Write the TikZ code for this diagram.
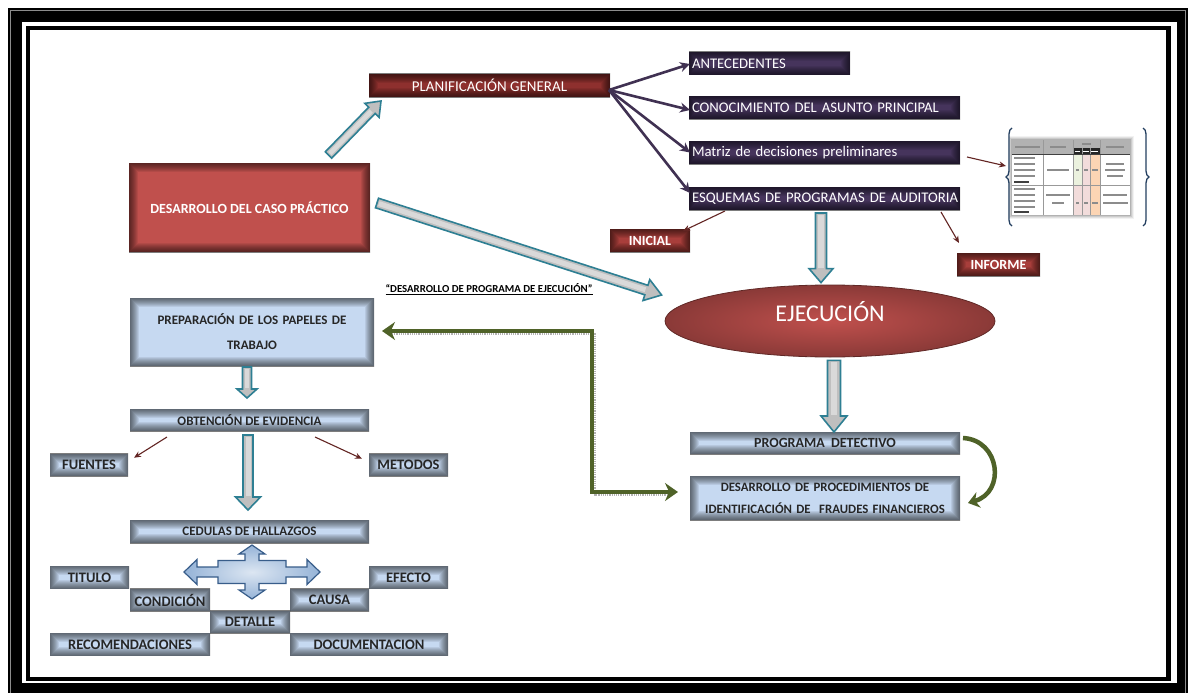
\documentclass[tikz,border=0pt]{standalone}
\usepackage{fontspec}
\setmainfont{Carlito}
\usetikzlibrary{calc,arrows.meta,decorations.pathreplacing,shapes.geometric}

\definecolor{boxred}{HTML}{C0504D}
\definecolor{deepred}{HTML}{8E302E}
\definecolor{tagred}{HTML}{A83E3B}
\definecolor{plum}{HTML}{46345C}
\definecolor{plumline}{HTML}{403152}
\definecolor{paleblue}{HTML}{C6D9F1}
\definecolor{tealline}{HTML}{2E7F93}
\definecolor{olive}{HTML}{4F6228}
\definecolor{maroon}{HTML}{632523}
\definecolor{navy}{HTML}{385D8A}
\definecolor{crosslight}{HTML}{DCE6F2}
\definecolor{crossdark}{HTML}{95B3D7}
\definecolor{bracecol}{HTML}{243F60}
\definecolor{cellgreen}{HTML}{EBF1DE}
\definecolor{cellpink}{HTML}{F2DCDB}
\definecolor{cellorange}{HTML}{FCD5B4}

\newcommand\setfs[2]{\fontsize{#1}{#2}\selectfont}

% wide arrow with outlined head: shaft half-width, head half-width, head length, tail, tip
\newcommand\blockarrow[5]{%
  \coordinate (ba-neck) at ($(#5)!#3!(#4)$);
  \filldraw[block arrow]
    ($(#4)!#1!90:(#5)$) -- ($(ba-neck)!#1!90:(#5)$) -- ($(ba-neck)!#2!90:(#5)$)
    -- (#5) -- ($(ba-neck)!#2!-90:(#5)$) -- ($(ba-neck)!#1!-90:(#5)$)
    -- ($(#4)!#1!-90:(#5)$) -- cycle;
  \draw[block core, line width=#1] ($(#4)!2pt!(#5)$) -- ($(ba-neck)!1pt!(#4)$);
}

\tikzset{
  edge shade/.style={path picture={
      \foreach \lw in {2,4,...,18}{
        \draw[draw=#1, draw opacity=0.075, line width=\lw pt]
          (path picture bounding box.south west) rectangle
          (path picture bounding box.north east);}}},
  box/.style={inner xsep=3pt, inner ysep=0pt, outer sep=0pt, align=center},
  casebox/.style={box, fill=boxred, edge shade=black, text=white,
    font=\bfseries\setfs{14}{17}},
  planbox/.style={box, fill=deepred, edge shade=black, text=white,
    font=\setfs{15}{18}},
  topicbox/.style={box, fill=plum, edge shade=black, text=white, align=left,
    font=\setfs{14.7}{18}, minimum height=23pt},
  tagbox/.style={box, fill=tagred, edge shade=black, text=white,
    font=\bfseries\setfs{14}{17}, minimum height=23pt},
  bluebox/.style={box, fill=paleblue, edge shade=black, text=black!85,
    font=\bfseries\setfs{13}{25}},
  itembox/.style={bluebox, font=\bfseries\setfs{14.5}{17}, minimum height=22.5pt},
  block arrow/.style={draw=tealline, fill=black!25, line width=1.6pt, line join=miter},
  block core/.style={white!85!black},
  branch/.style={draw=plumline, line width=2.6pt, -{Stealth[length=10pt,width=10pt]}},
  thin arrow/.style={draw=maroon, line width=1.1pt, -{Stealth[length=7pt,width=6pt]}},
  link/.style={draw=olive, line width=4.5pt,
    {Stealth[length=13pt,width=18pt]}-{Stealth[length=13pt,width=18pt]}},
  textbar/.style={black!45, line width=1.1pt},
}

\begin{document}
\begin{tikzpicture}[x=1pt, y=-1pt]
\useasboundingbox (0,0) rectangle (1191,693);

% double frame
\fill[black] (8,8) rectangle (1188,700);
\draw[black!45, line width=0.8pt] (10.5,10.5) rectangle (1185.5,705);
\fill[white] (22,22) rectangle (1177,683);
\fill[black] (26,26) rectangle (1171,681);
\fill[white] (30,30) rectangle (1166,677);

% planning branch
\node[casebox, minimum width=241pt, minimum height=89pt] (caso) at (249.5,207.5)
  {DESARROLLO DEL CASO PRÁCTICO};
\node[planbox, minimum width=241pt, minimum height=23pt] (plan) at (489.5,85.5)
  {PLANIFICACIÓN GENERAL};
\node[topicbox, text width=155pt] (ante) at (769.5,63.5) {ANTECEDENTES};
\node[topicbox, text width=265pt] (cono) at (824.5,107.5) {\mbox{CONOCIMIENTO DEL ASUNTO PRINCIPAL}};
\node[topicbox, text width=265pt] (matriz) at (824.5,152.5) {\mbox{Matriz de decisiones preliminares}};
\node[topicbox, text width=265pt] (esq) at (824.5,198.5) {\mbox{ESQUEMAS DE PROGRAMAS DE AUDITORIA}};
\node[tagbox, minimum width=80pt] (inicial) at (650,240.5) {INICIAL};
\node[tagbox, minimum width=83pt] (informe) at (998.5,264.5) {INFORME};

% execution
\node[ellipse, shade, inner color=boxred, outer color=boxred!72!black,
  draw=boxred!50!black, line width=0.8pt, minimum width=330pt, minimum height=72pt,
  text=white, font=\setfs{24}{28}, text height=10pt, text depth=10pt]
  (ejec) at (830,321) {EJECUCIÓN};
\node[bluebox, minimum width=270pt, minimum height=22pt, font=\bfseries\setfs{14}{17}]
  (progdet) at (825,443) {PROGRAMA \ DETECTIVO};
\node[bluebox, minimum width=270pt, minimum height=44pt, text width=264pt,
  font=\bfseries\setfs{12.8}{22}]
  (desproc) at (825,498) {DESARROLLO DE PROCEDIMIENTOS DE\\IDENTIFICACIÓN DE \ FRAUDES FINANCIEROS};

\node (ttl) at (489,289)
  {\resizebox{207pt}{9pt}{\bfseries\underline{“DESARROLLO DE PROGRAMA DE EJECUCIÓN”}}};

% working papers column
\node[bluebox, minimum width=244pt, minimum height=68pt, text width=238pt]
  (prep) at (252,332) {PREPARACIÓN DE LOS PAPELES DE\\TRABAJO};
\node[bluebox, minimum width=239pt, minimum height=22pt] (obt) at (249.5,420)
  {OBTENCIÓN DE EVIDENCIA};
\node[itembox, minimum width=78pt] (fuentes) at (89,465) {FUENTES};
\node[itembox, minimum width=79pt] (metodos) at (408.5,465) {METODOS};
\node[bluebox, minimum width=239pt, minimum height=23pt] (ced) at (249.5,531.5)
  {CEDULAS DE HALLAZGOS};
\node[itembox, minimum width=79pt] (titulo) at (89.5,577.5) {TITULO};
\node[itembox, minimum width=79pt] (efecto) at (408.5,577.5) {EFECTO};
\node[itembox, minimum width=80pt] (condicion) at (170,600) {CONDICIÓN};
\node[itembox, minimum width=79pt] (causa) at (329.5,600) {CAUSA};
\node[itembox, minimum width=80pt] (detalle) at (250,622) {DETALLE};
\node[itembox, minimum width=160pt] (recom) at (130,644.5) {RECOMENDACIONES};
\node[itembox, minimum width=158pt] (docum) at (369,644.5) {DOCUMENTACION};

% four-way arrow under the findings box
\shade[inner color=crosslight, outer color=crossdark, draw=navy, line width=1.2pt, line join=miter]
  (184,572) -- (197,559.5) -- (197,567) -- (218,567) -- (218,560.5) -- (245,560.5)
  -- (245,554) -- (239,554) -- (252,545) -- (265,554) -- (259,554) -- (259,560.5)
  -- (286,560.5) -- (286,567) -- (307,567) -- (307,559.5) -- (320,572) -- (307,584.5)
  -- (307,577) -- (286,577) -- (286,583.5) -- (259,583.5) -- (259,590) -- (265,590)
  -- (252,599) -- (239,590) -- (245,590) -- (245,583.5) -- (218,583.5) -- (218,577)
  -- (197,577) -- (197,584.5) -- cycle;

% decision matrix thumbnail
\foreach \d/\o in {4/0.05,3/0.07,2/0.09,1/0.12}
  \fill[black, opacity=\o] (1012-\d,140-\d) rectangle (1130+\d,215+\d);
\fill[white] (1012,140) rectangle (1130,215);
\fill[black!30] (1012,140) rectangle (1130,154);
\fill[black!85] (1073,148) rectangle (1100,154);
\fill[cellgreen] (1073,154) rectangle (1082,185);
\fill[cellpink] (1073,185) rectangle (1082,215);
\fill[cellpink] (1082,154) rectangle (1090,215);
\fill[cellorange] (1090,154) rectangle (1100,215);
\draw[black!40, line width=0.4pt]
  (1043,140) -- (1043,215) (1073,140) -- (1073,215) (1082,148) -- (1082,215)
  (1090,148) -- (1090,215) (1100,140) -- (1100,215) (1012,185) -- (1130,185);
\draw[black!75, line width=0.8pt] (1012,154) -- (1130,154);
\foreach \y in {158,164,170,176,189,195,201,207}
  \draw[textbar] (1014,\y) -- (1035,\y);
\draw[textbar, black!75] (1014,182) -- (1029,182) (1014,212) -- (1029,212);
\draw[textbar] (1015,147) -- (1040,147) (1050,147) -- (1066,147) (1082,144) -- (1091,144)
  (1106,147) -- (1124,147)
  (1047,170) -- (1069,170) (1076,170) -- (1079,170) (1084,170) -- (1088,170) (1092,170) -- (1098,170)
  (1106,164) -- (1124,164) (1105,170) -- (1125,170) (1107,176) -- (1123,176)
  (1046,195) -- (1070,195) (1052,203) -- (1064,203)
  (1076,203) -- (1079,203) (1084,203) -- (1088,203) (1092,203) -- (1098,203)
  (1103,195) -- (1127,195) (1103,203) -- (1128,203);
\draw[white, line width=0.8pt] (1075,151) -- (1080,151) (1083,151) -- (1089,151) (1091,151) -- (1098,151);
\draw[bracecol, line width=1.3pt, decorate, decoration={brace, amplitude=6pt}]
  (1012,226) -- (1012,128);
\draw[bracecol, line width=1.3pt, decorate, decoration={brace, amplitude=6pt}]
  (1143,128) -- (1143,226);
\coordinate (tbl) at (1006,166);

% wide arrows
\blockarrow{4.5pt}{10pt}{13pt}{$(caso.north)+(79,-8)$}{$(plan.south west)+(12,4)$}
\blockarrow{5pt}{11pt}{16pt}{$(caso.east)+(7,-4.5)$}{$(ejec.west)+(-3,-26)$}
\blockarrow{5.5pt}{12pt}{14pt}{$(esq.south)+(-3.5,3)$}{$(ejec.north)+(-9,-2)$}
\blockarrow{6.5pt}{13pt}{16pt}{$(ejec.south)+(4,3)$}{$(progdet.north)+(9,0)$}
\blockarrow{4.5pt}{10pt}{9pt}{$(prep.south)+(-5,1)$}{$(obt.north)+(-2.5,-11)$}
\blockarrow{5pt}{12.5pt}{13pt}{$(obt.south)+(-1.5,4)$}{$(ced.north)+(-1.5,-10)$}

% planning branches
\coordinate (fan) at ($(plan.south east)+(-1,-7)$);
\draw[branch] (fan) -- ($(ante.west)+(1,0.5)$);
\draw[branch] (fan) -- ($(cono.west)+(1,2.5)$);
\draw[branch] (fan) -- ($(matriz.west)+(1,0)$);
\draw[branch] (fan) -- ($(esq.west)+(1,-5.5)$);

% thin pointers
\draw[thin arrow] ($(esq.south west)+(36,1)$) -- ($(inicial.north east)+(-7,2)$);
\draw[thin arrow] ($(esq.south east)+(-19,2)$) -- ($(informe.north west)+(2,-10)$);
\draw[thin arrow] ($(matriz.east)+(7,4.5)$) -- (tbl);
\draw[thin arrow] ($(obt.south west)+(37,6)$) -- ($(fuentes.north east)+(6,4)$);
\draw[thin arrow] ($(obt.south east)+(-54,6)$) -- ($(metodos.north west)+(-7,5)$);

% olive links
\coordinate (gA) at ($(prep.east)+(8,-1)$);
\coordinate (gB) at ($(desproc.west)+(-12,-6)$);
\draw[black!30, densely dotted, line width=1.2pt] ($(gA)+(10,3)$) -| ($(gB)+(-83,3)$) -- ($(gB)+(-10,3)$);
\draw[link] (gA) -| ($(gB)+(-86,0)$) -- (gB);
\draw[draw=olive, line width=4.5pt, -{Stealth[length=11pt,width=16pt]}]
  ($(progdet.east)+(3,-5)$) .. controls (1000,440) and (1006,492) .. ($(desproc.east)+(8,5)$);

\end{tikzpicture}
\end{document}
